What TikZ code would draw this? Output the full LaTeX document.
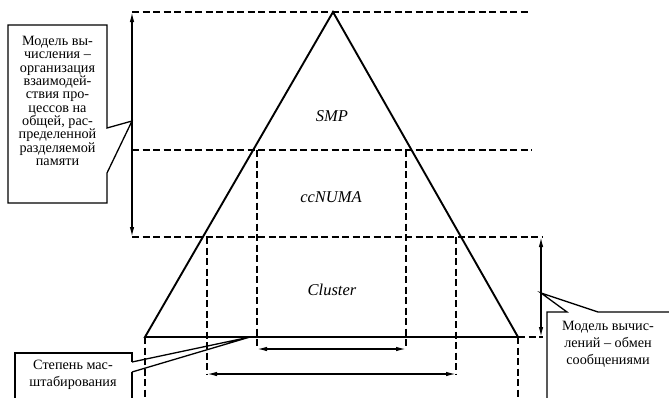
\documentclass[tikz,border=0pt]{standalone}
\usepackage{fontspec}
\setmainfont{Liberation Serif}
\usetikzlibrary{arrows.meta}
\tikzset{
  triline/.style={line width=1.9pt, line join=miter},
  dashline/.style={line width=1.1pt, dash pattern=on 7pt off 3.5pt},
  dimarrow/.style={line width=1.4pt, {Latex[length=10pt,width=4.5pt]}-{Latex[length=10pt,width=4.5pt]}},
  callout/.style={line width=1.3pt, line join=miter},
  zone/.style={font=\itshape\fontsize{16.5}{18}\selectfont, inner sep=0pt},
  boxtext/.style={align=center, inner sep=0pt},
}
\begin{document}
\begin{tikzpicture}[x=1pt,y=-1pt]
\useasboundingbox (0,0) rectangle (669,397);
% key points
\coordinate (apex) at (333,12);
\coordinate (bl) at (145,337);
\coordinate (br) at (518,337);
\coordinate (la1) at (132,12);
\coordinate (la2) at (132,237);
\coordinate (lm) at (132,150);
\coordinate (ra1) at (541,237);
\coordinate (ra2) at (541,337);
\coordinate (t1) at (528,12);
\coordinate (t2) at (532,150);
\coordinate (t3) at (543,237);
\coordinate (t4) at (543,337);
\coordinate (v1a) at (257,150);
\coordinate (v1b) at (257,349);
\coordinate (v2a) at (406,150);
\coordinate (v2b) at (406,349);
\coordinate (w1a) at (207,237);
\coordinate (w1b) at (207,374);
\coordinate (w2a) at (456,237);
\coordinate (w2b) at (456,374);
\coordinate (b1) at (145,397);
\coordinate (b2) at (518,397);
\coordinate (lp) at (132,121);
\coordinate (sp) at (250,337);
\coordinate (rp) at (541,293);
% dashed guides
\draw[dashline] (la1) -- (t1);
\draw[dashline] (lm) -- (t2);
\draw[dashline] (la2) -- (t3);
\draw[dashline] (br) -- (t4);
\draw[dashline] (v1a) -- (v1b);
\draw[dashline] (v2a) -- (v2b);
\draw[dashline] (w1a) -- (w1b);
\draw[dashline] (w2a) -- (w2b);
\draw[dashline] (bl) -- (b1);
\draw[dashline] (br) -- (b2);
% triangle
\draw[triline] (bl) -- (apex) -- (br) -- cycle;
% dimension arrows
\draw[dimarrow] (la1) -- (la2);
\draw[dimarrow] (ra1) -- (ra2);
\draw[dimarrow] (v1b) -- (v2b);
\draw[dimarrow] (w1b) -- (w2b);
% zone labels
\node[zone] (smp) at (332,116) {SMP};
\node[zone] (numa) at (331,197) {ccNUMA};
\node[zone] (clu) at (332,290) {Cluster};
% left callout
\draw[callout] (107,128) -- (107,25) -- (8,25) -- (8,203) -- (107,203) -- (107,173) -- (lp) -- cycle;
\node[boxtext, font=\fontsize{14.2}{13.33}\selectfont] (ltext) at (57.5,101)
  {Модель вы-\\числения –\\организация\\взаимодей-\\ствия про-\\цессов на\\общей, рас-\\пределенной\\разделяемой\\памяти};
% bottom-left callout
\draw[callout] (132,372) -- (132,400) (132,362) -- (132,353) -- (15,353) -- (15,400);
\draw[callout] (132,362) -- (sp) -- (132,372);
\node[boxtext, font=\fontsize{14.2}{16.5}\selectfont] (stext) at (73,375)
  {Степень мас-\\штабирования};
% right callout
\draw[callout] (547,400) -- (547,312) -- (567,312) -- (rp) -- (598,312) -- (672,312);
\node[boxtext, font=\fontsize{14.2}{17}\selectfont] (rtext) at (608,344)
  {Модель вычис-\\лений – обмен\\сообщениями};
\end{tikzpicture}
\end{document}
